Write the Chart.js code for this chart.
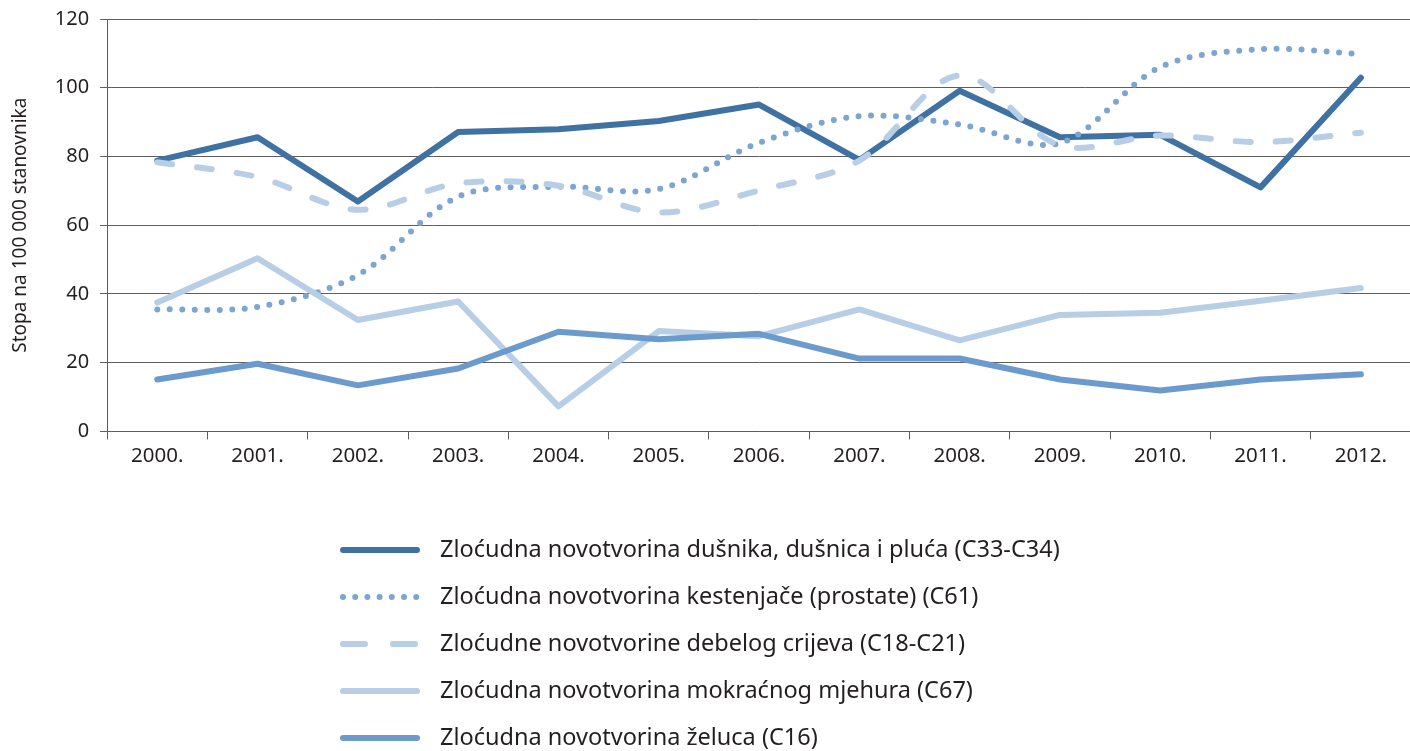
<!DOCTYPE html>
<html>
<head>
<meta charset="utf-8">
<script src="https://cdn.jsdelivr.net/npm/chart.js@4"></script>
<style>
  html, body { margin: 0; padding: 0; background: #fff; overflow: hidden; }
  #wrap { width: 1410px; height: 751px; overflow: hidden; }
</style>
</head>
<body>
<div id="wrap">
  <canvas id="incChart" width="1411" height="751"></canvas>
</div>
<script>
const years = ["2000.", "2001.", "2002.", "2003.", "2004.", "2005.", "2006.",
  "2007.", "2008.", "2009.", "2010.", "2011.", "2012."];

const seriesNames = [
  "Zloćudna novotvorina dušnika, dušnica i pluća (C33-C34)",
  "Zloćudna novotvorina kestenjače (prostate) (C61)",
  "Zloćudne novotvorine debelog crijeva (C18-C21)",
  "Zloćudna novotvorina mokraćnog mjehura (C67)",
  "Zloćudna novotvorina želuca (C16)"
];

const lungs    = [78.8, 85.6, 66.9, 87.1, 87.9, 90.3, 95.1, 79.0, 99.1, 85.6, 86.3, 71.0, 102.9];
const prostate = [35.5, 36.2, 45.5, 68.3, 71.2, 70.5, 84.0, 91.7, 89.3, 83.9, 106.0, 111.2, 109.8];
const colon    = [78.3, 74.0, 64.5, 72.2, 71.5, 63.7, 70.1, 78.8, 103.6, 83.2, 86.1, 84.2, 86.9];
const bladder  = [37.5, 50.4, 32.4, 37.8, 7.3, 29.2, 27.7, 35.5, 26.5, 33.9, 34.5, 38.0, 41.7];
const stomach  = [15.1, 19.7, 13.4, 18.3, 29.0, 26.8, 28.4, 21.2, 21.2, 15.1, 11.9, 15.1, 16.6];

const yTicks = [0, 20, 40, 60, 80, 100, 120];
const yTitle = "Stopa na 100 000 stanovnika";

const FONT = "'Noto Sans', sans-serif";
const TEXT = "#231f20";
const GRID = "#5e5e5e";

// style per series (Excel-like look)
const styles = [
  { color: "#3f71a3", dash: [], tension: 0 },
  { color: "#7ca6d1", dash: [0, 12.5], tension: 0.33, legendDash: [0, 12.2] },
  { color: "#b8cde6", dash: [15, 25], tension: 0.33, legendDash: [22, 28] },
  { color: "#b8cde6", dash: [], tension: 0 },
  { color: "#6a9bcc", dash: [], tension: 0 }
];

const values = [lungs, prostate, colon, bladder, stomach];

const datasets = values.map((data, i) => ({
  label: seriesNames[i],
  data: data,
  borderColor: styles[i].color,
  backgroundColor: styles[i].color,
  borderWidth: 6,
  borderDash: styles[i].dash,
  borderCapStyle: "round",
  borderJoinStyle: "round",
  tension: styles[i].tension,
  pointRadius: 0,
  pointHoverRadius: 0,
  fill: false,
  order: values.length - i   // later series drawn on top
}));

// simple vertical legend drawn under the plot
const stackLegend = {
  id: "stackLegend",
  afterDraw(chart, args, opts) {
    const ctx = chart.ctx;
    ctx.save();
    chart.data.datasets.forEach((ds, i) => {
      const y = opts.top + i * opts.step;
      const st = styles[i];
      ctx.beginPath();
      ctx.strokeStyle = ds.borderColor;
      ctx.lineWidth = 6;
      ctx.lineCap = "round";
      ctx.setLineDash(st.legendDash || []);
      ctx.moveTo(opts.left + 3, y);
      ctx.lineTo(opts.left + 77, y);
      ctx.stroke();
      ctx.setLineDash([]);
      ctx.fillStyle = TEXT;
      ctx.font = opts.fontSize + "px " + FONT;
      ctx.textBaseline = "middle";
      ctx.textAlign = "left";
      ctx.fillText(ds.label, opts.textLeft, y);
    });
    ctx.restore();
  }
};

const ctx = document.getElementById("incChart").getContext("2d");

new Chart(ctx, {
  type: "line",
  data: { labels: years, datasets },
  plugins: [stackLegend],
  options: {
    responsive: false,
    animation: false,
    events: [],
    layout: { padding: { left: 8, right: 0, top: 19, bottom: 279 } },
    plugins: {
      legend: { display: false },
      tooltip: { enabled: false },
      stackLegend: { left: 340, textLeft: 440, top: 550, step: 47, fontSize: 23.5 }
    },
    scales: {
      x: {
        offset: true,
        grid: {
          offset: true,
          drawOnChartArea: false,
          drawTicks: true,
          tickLength: 8,
          color: GRID,
          lineWidth: 1
        },
        border: { color: GRID, width: 1 },
        ticks: {
          color: TEXT,
          padding: 4,
          maxRotation: 0,
          autoSkip: false,
          font: { family: FONT, size: 20.5 }
        }
      },
      y: {
        min: 0,
        max: 120,
        afterBuildTicks: axis => { axis.ticks = yTicks.map(v => ({ value: v })); },
        // let layout padding alone decide the top of the plot
        afterFit: axis => { axis.paddingTop = 0; axis.paddingBottom = 0; },
        grid: {
          color: GRID,
          lineWidth: 1,
          tickLength: 7
        },
        border: { color: GRID, width: 1 },
        ticks: {
          color: TEXT,
          padding: 11,
          font: { family: FONT, size: 20 }
        },
        title: {
          display: true,
          text: yTitle,
          color: TEXT,
          padding: { top: 1, bottom: 12 },
          font: { family: FONT, size: 19 }
        }
      }
    }
  }
});
</script>
</body>
</html>
